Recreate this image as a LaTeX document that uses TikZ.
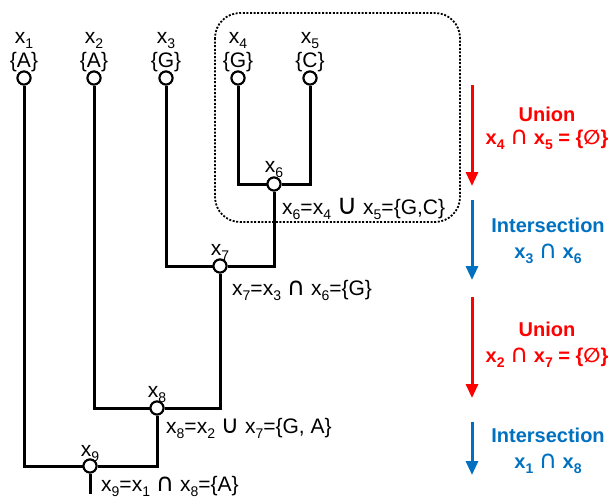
\documentclass[tikz,border=0pt]{standalone}
\usepackage{fontspec}
\setmainfont{Liberation Sans}
\newfontfamily\symf{DejaVu Sans}
\usetikzlibrary{arrows.meta}
\newcommand\sbs[1]{\raisebox{-0.26em}{\fontsize{14}{14}\selectfont #1}}
\newcommand\xv[1]{x\sbs{#1}}
\newcommand\capsym{{\symf\mdseries\fontsize{25}{25}\selectfont ∩}}
\newcommand\cupsym{{\symf\mdseries\fontsize{25}{25}\selectfont ∪}}
\newcommand\bigcupsym{{\symf\mdseries\fontsize{28}{28}\selectfont ∪}}
\newcommand\emptysym{{\symf ∅}}
\definecolor{ured}{HTML}{FF0000}
\definecolor{iblue}{HTML}{0070C0}
\begin{document}
\begin{tikzpicture}[x=1pt,y=-1pt,
  tree/.style={line width=3pt},
  nd/.style={circle, draw, fill=white, line width=2pt, minimum size=13pt, inner sep=0pt},
  lbl/.style={anchor=base, inner sep=0pt, font=\fontsize{21}{25}\selectfont},
  eq/.style={anchor=base west, inner sep=0pt, font=\fontsize{21}{25}\selectfont},
  rt/.style={anchor=base, inner sep=0pt, font=\fontsize{20}{24}\selectfont\bfseries},
  arr/.style={line width=3pt, -{Triangle[width=12pt,length=14pt]}},
  boxst/.style={line width=1.8pt, dash pattern=on 2pt off 1.6pt, rounded corners=25pt}
]
\useasboundingbox (0,0) rectangle (612,498);

% dotted box
\draw[boxst] (215,13) rectangle (460,222);

% leaves
\node[nd] (l1) at (24,78) {};
\node[nd] (l2) at (94,78) {};
\node[nd] (l3) at (166,78) {};
\node[nd] (l4) at (238,78) {};
\node[nd] (l5) at (310,78) {};
\node[lbl] (t1) at (24,43) {\xv{1}};
\node[lbl] (t2) at (94,43) {\xv{2}};
\node[lbl] (t3) at (166,43) {\xv{3}};
\node[lbl] (t4) at (238,43) {\xv{4}};
\node[lbl] (t5) at (310,43) {\xv{5}};
\node[lbl] (s1) at (24,67) {\{A\}};
\node[lbl] (s2) at (94,67) {\{A\}};
\node[lbl] (s3) at (166,67) {\{G\}};
\node[lbl] (s4) at (238,67) {\{G\}};
\node[lbl] (s5) at (310,67) {\{C\}};

% internal nodes
\node[nd] (n6) at (274,184) {};
\node[nd] (n7) at (220,266) {};
\node[nd] (n8) at (157,408) {};
\node[nd] (n9) at (90,466) {};
\coordinate (root) at (90,494);

% tree edges
\draw[tree] (l4) |- (n6);
\draw[tree] (l5) |- (n6);
\draw[tree] (l3) |- (n7);
\draw[tree] (n6) |- (n7);
\draw[tree] (l2) |- (n8);
\draw[tree] (n7) |- (n8);
\draw[tree] (l1) |- (n9);
\draw[tree] (n8) |- (n9);
\draw[tree] (n9) -- (root);

% redraw circles on top
\foreach \n in {l1,l2,l3,l4,l5,n6,n7,n8,n9}{\node[nd] at (\n) {};}

% node labels
\node[lbl] (u6) at (274,172) {\xv{6}};
\node[lbl] (u7) at (220,255) {\xv{7}};
\node[lbl] (u8) at (157,397) {\xv{8}};
\node[lbl] (u9) at (90,456) {\xv{9}};
\node[eq] (e6) at (282,214) {\xv{6}=\xv{4} \bigcupsym{} \xv{5}=\{G,C\}};
\node[eq] (e7) at (232,295) {\xv{7}=\xv{3} \capsym{} \xv{6}=\{G\}};
\node[eq] (e8) at (166,433) {\xv{8}=\xv{2} \cupsym{} \xv{7}=\{G, A\}};
\node[eq] (e9) at (101,491) {\xv{9}=\xv{1} \capsym{} \xv{8}=\{A\}};

% right-hand arrows
\coordinate (a1s) at (472,85);  \coordinate (a1e) at (472,186);
\coordinate (a2s) at (472,200); \coordinate (a2e) at (472,280);
\coordinate (a3s) at (472,297); \coordinate (a3e) at (472,398);
\coordinate (a4s) at (472,422); \coordinate (a4e) at (472,475);
\draw[arr, ured] (a1s) -- (a1e);
\draw[arr, iblue] (a2s) -- (a2e);
\draw[arr, ured] (a3s) -- (a3e);
\draw[arr, iblue] (a4s) -- (a4e);

\node[rt, text=ured] (r1) at (547,121) {Union};
\node[rt, text=ured] (r1b) at (547,144) {\xv{4} \capsym{} \xv{5} = \{\emptysym\}};
\node[rt, text=iblue] (r2) at (548,232) {Intersection};
\node[rt, text=iblue] (r2b) at (548,258) {\xv{3} \capsym{} \xv{6}};
\node[rt, text=ured] (r3) at (547,336) {Union};
\node[rt, text=ured] (r3b) at (547,362) {\xv{2} \capsym{} \xv{7} = \{\emptysym\}};
\node[rt, text=iblue] (r4) at (548,442) {Intersection};
\node[rt, text=iblue] (r4b) at (548,468) {\xv{1} \capsym{} \xv{8}};
\end{tikzpicture}
\end{document}
